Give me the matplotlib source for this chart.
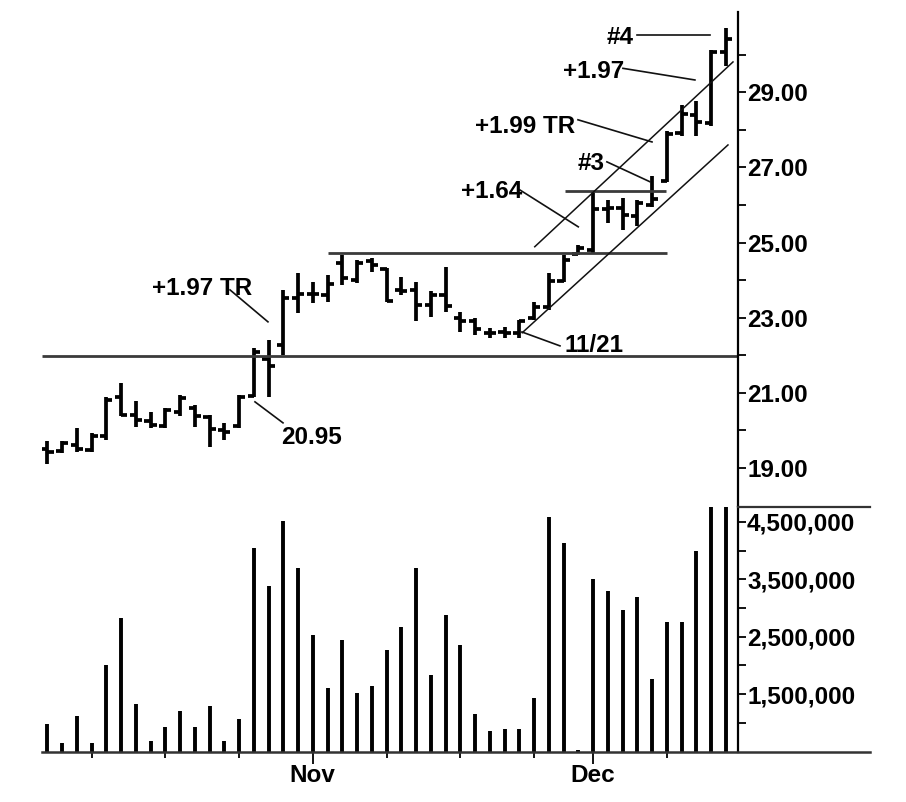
import matplotlib
matplotlib.use('Agg')
import matplotlib.pyplot as plt
import numpy as np
from matplotlib.lines import Line2D

plt.rcParams['font.family'] = ['Liberation Sans', 'DejaVu Sans']
plt.rcParams['font.weight'] = 'bold'

# ---- data ----
opens = [19.50, 19.45, 19.60, 19.48, 19.85, 20.90, 20.40, 20.25, 20.12, 20.50,
         20.60, 20.35, 20.00, 20.12, 20.92, 21.90, 22.28, 23.52, 23.62, 23.60,
         24.45, 24.00, 24.50, 24.30, 23.75, 23.75, 23.35, 23.60, 23.00, 22.90,
         22.60, 22.63, 22.60, 23.00, 23.28, 23.98, 24.70, 24.81, 25.90, 25.92,
         25.70, 26.00, 26.65, 27.92, 28.40, 28.18, 30.08]
highs = [19.72, 19.72, 20.06, 19.92, 20.90, 21.27, 20.77, 20.50, 20.60, 20.94,
         20.68, 20.40, 20.19, 20.94, 22.19, 22.41, 23.74, 24.18, 23.96, 24.14,
         24.67, 24.54, 24.58, 24.32, 24.09, 23.96, 23.70, 24.36, 23.16, 22.99,
         22.72, 22.76, 22.94, 23.43, 24.18, 24.67, 24.94, 26.36, 26.14, 26.18,
         26.14, 26.76, 27.98, 28.67, 28.76, 30.13, 30.71]
lows = [19.10, 19.40, 19.43, 19.43, 19.75, 20.37, 20.10, 20.06, 20.06, 20.37,
        20.10, 19.57, 19.75, 20.06, 20.90, 20.90, 22.02, 23.12, 23.39, 23.43,
        23.87, 23.92, 24.23, 23.43, 23.60, 22.90, 23.03, 23.16, 22.63, 22.54,
        22.45, 22.45, 22.45, 22.94, 23.20, 23.96, 24.67, 24.72, 25.52, 25.34,
        25.43, 25.96, 26.62, 27.85, 27.83, 28.10, 29.69]
closes = [19.42, 19.66, 19.50, 19.85, 20.82, 20.41, 20.28, 20.15, 20.54, 20.85,
          20.37, 20.05, 19.95, 20.88, 22.10, 21.72, 23.52, 23.62, 23.62, 23.90,
          24.05, 24.45, 24.40, 23.45, 23.70, 23.35, 23.60, 23.30, 22.90, 22.70,
          22.60, 22.60, 22.90, 23.28, 23.98, 24.55, 24.85, 25.90, 25.92, 25.74,
          26.05, 26.15, 27.90, 28.42, 28.20, 30.08, 30.42]
volumes = [0.97e6, 0.65e6, 1.11e6, 0.65e6, 2.00e6, 2.82e6, 1.32e6, 0.69e6, 0.92e6, 1.20e6,
           0.92e6, 1.29e6, 0.69e6, 1.06e6, 4.05e6, 3.38e6, 4.51e6, 3.70e6, 2.53e6, 1.61e6,
           2.44e6, 1.52e6, 1.64e6, 2.27e6, 2.67e6, 3.70e6, 1.84e6, 2.88e6, 2.36e6, 1.15e6,
           0.86e6, 0.89e6, 0.89e6, 1.43e6, 4.59e6, 4.14e6, 0.52e6, 3.51e6, 3.30e6, 2.96e6,
           3.19e6, 1.77e6, 2.76e6, 2.76e6, 3.99e6, 4.90e6, 4.90e6]
month_ticks = [18, 37]
month_labels = ['Nov', 'Dec']
week_ticks = [3, 8, 13, 23, 28, 33, 42]
price_ticks = [19, 21, 23, 25, 27, 29]
price_minor = [20, 22, 24, 26, 28, 30]
vol_ticks = [1.5e6, 2.5e6, 3.5e6, 4.5e6]
vol_minor = [1.0e6, 2.0e6, 3.0e6, 4.0e6]

# horizontal support / resistance lines: (level, start bar, end bar)
hlevels = [(21.97, None, None), (24.72, 19.03, 42.0), (26.38, 35.1, 41.93)]
# trend channel lines
trend_lines = [((32.2, 46.15), (22.6, 27.6)), ((33.05, 46.49), (24.89, 29.81))]
# annotations: text, text pos, leader start, leader end
annotations = [
    ('+1.97 TR', (7.1, 23.77), (12.39, 23.74), (14.96, 22.89)),
    ('20.95', (15.85, 19.80), (14.08, 20.76), (15.98, 20.20)),
    ('11/21', (35.1, 22.25), (32.18, 22.62), (34.76, 22.25)),
    ('+1.64', (28.05, 26.35), (32.05, 26.40), (36.0, 25.42)),
    ('#3', (35.98, 27.11), (37.94, 27.15), (40.86, 26.62)),
    ('+1.99 TR', (29.0, 28.09), (35.98, 28.27), (41.0, 27.68)),
    ('+1.97', (34.96, 29.56), (39.03, 29.64), (43.91, 29.33)),
    ('#4', (37.94, 30.46), (39.98, 30.53), (44.93, 30.53)),
]

W, H = 906, 802
fig = plt.figure(figsize=(W / 100, H / 100), dpi=100)
fig.patch.set_facecolor('white')

def fx(px):
    return px / W

def fy(py):
    return 1 - py / H

L, R = 42, 738
axp = fig.add_axes([fx(L), fy(507), fx(R) - fx(L), fy(12) - fy(507)])
axv = fig.add_axes([fx(L), fy(752), fx(R) - fx(L), fy(507) - fy(752)])

XMIN, XMAX = -0.36, 46.83
x = np.arange(len(opens))
FS = 17.5

# price bars
lw = 2.7
axp.vlines(x, lows, highs, color='black', lw=lw)
axp.hlines(opens, x - 0.42, x, color='black', lw=lw)
axp.hlines(closes, x, x + 0.42, color='black', lw=lw)

for lvl, a, b in hlevels:
    axp.hlines(lvl, XMIN if a is None else a, XMAX if b is None else b,
               color='#3a3a3a', lw=2.0)
for xs, ys in trend_lines:
    axp.plot(xs, ys, color='#111111', lw=1.1)
for txt, tp, p0, p1 in annotations:
    axp.plot([p0[0], p1[0]], [p0[1], p1[1]], color='#111111', lw=1.2)
    axp.text(tp[0], tp[1], txt, ha='left', va='center', fontsize=FS,
             fontweight='bold', color='black')

axp.set_xlim(XMIN, XMAX)
axp.set_ylim(17.96, 31.14)

# volume bars
axv.vlines(x, 0, volumes, color='black', lw=2.8)
axv.set_xlim(XMIN, XMAX)
axv.set_ylim(0.49e6, 4.76e6)

for ax in (axp, axv):
    for s in ('left', 'top', 'bottom'):
        ax.spines[s].set_visible(False)
    ax.spines['right'].set_linewidth(1.6)
    ax.yaxis.tick_right()
    ax.tick_params(axis='y', which='both', direction='out', length=5.5,
                   width=1.3, labelsize=FS, pad=1)

axp.set_yticks(price_ticks)
axp.set_yticklabels(['%.2f' % v for v in price_ticks])
axp.set_yticks(price_minor, minor=True)
axp.tick_params(axis='x', which='both', bottom=False, labelbottom=False)

axv.set_yticks(vol_ticks)
axv.set_yticklabels(['{:,.0f}'.format(v) for v in vol_ticks])
axv.set_yticks(vol_minor, minor=True)

axv.set_xticks(month_ticks)
axv.set_xticklabels(month_labels)
axv.set_xticks(week_ticks, minor=True)
axv.tick_params(axis='x', which='major', direction='out', length=8.5,
                width=1.3, labelsize=FS, pad=0)
axv.tick_params(axis='x', which='minor', direction='out', length=4.5, width=1.3)

for lab in axp.get_yticklabels() + axv.get_yticklabels() + axv.get_xticklabels():
    lab.set_fontweight('bold')

# frame lines extending past the plot
fig.add_artist(Line2D([fx(L), fx(870)], [fy(752), fy(752)],
                      transform=fig.transFigure, color='#333333', lw=1.8))
fig.add_artist(Line2D([fx(R), fx(870)], [fy(507), fy(507)],
                      transform=fig.transFigure, color='#333333', lw=1.6))

fig.savefig('out.png', dpi=100, facecolor='white')
